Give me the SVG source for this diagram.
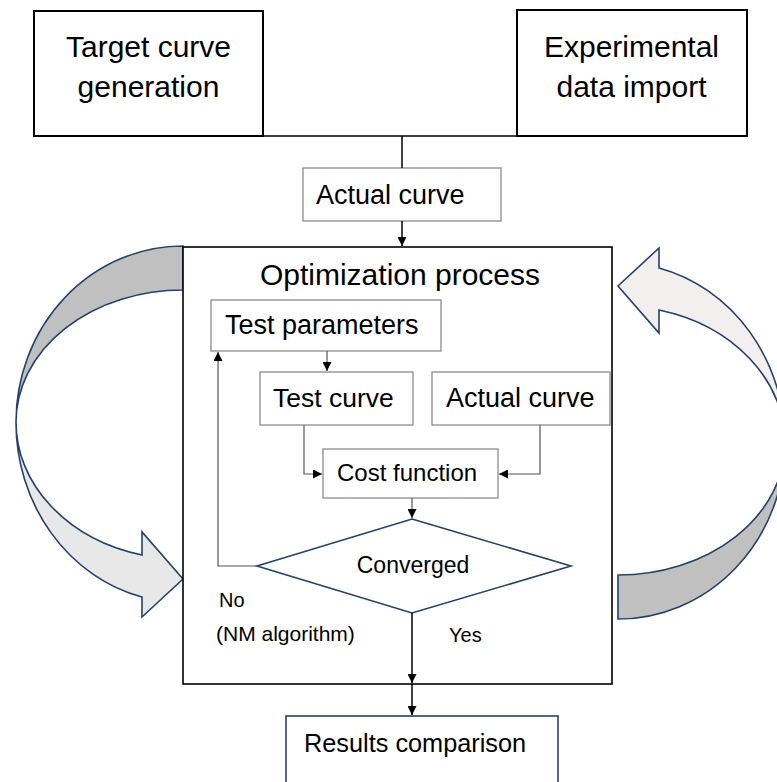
<svg xmlns="http://www.w3.org/2000/svg" width="777" height="782" viewBox="0 0 777 782">
<defs>
<style>
text{font-family:"Liberation Sans",Arial,sans-serif;fill:#000}
.big{font-size:30px}
.mid{font-size:27px}
.bk{fill:#fff;stroke:#000;stroke-width:2}
.gr{fill:#fff;stroke:#8c8c8c;stroke-width:1.3}
.nv{fill:#fff;stroke:#23416b;stroke-width:1.6}
.cn{fill:none;stroke:#000;stroke-width:1.5}
.ci{fill:none;stroke:#555;stroke-width:1.2}
.arr{stroke:#23416b;stroke-width:1.6;stroke-linejoin:miter}
</style>
<marker id="ah" viewBox="0 0 10 10" refX="10" refY="5" markerWidth="9" markerHeight="9" markerUnits="userSpaceOnUse" orient="auto">
<path d="M0,0 L10,5 L0,10 Z" fill="#000"/>
</marker>
</defs>

<g id="loop-left">
<path class="arr" fill="#c0c0c0" d="M183,246 A167,176 0 0 0 16,422 A167,132 0 0 1 183,290 Z"/>
<path class="arr" fill="#e8e8e8" d="M16,422 A167,180 0 0 0 142,597 L142,617 L183,579 L142,532 L142,555 A167,137 0 0 1 16,422 Z"/>
</g>
<g id="loop-right" transform="rotate(180 400.5 432.5)">
<path class="arr" fill="#c0c0c0" d="M183,246 A167,176 0 0 0 16,422 A167,132 0 0 1 183,290 Z"/>
<path class="arr" fill="#f4efef" d="M16,422 A167,180 0 0 0 142,597 L142,617 L183,579 L142,532 L142,555 A167,137 0 0 1 16,422 Z"/>
</g>

<g id="target">
<rect class="bk" x="34" y="11" width="229" height="125"/>
<text class="big" x="148.5" y="57" text-anchor="middle">Target curve</text>
<text class="big" x="148.5" y="97" text-anchor="middle">generation</text>
</g>
<g id="experimental">
<rect class="bk" x="517" y="10" width="230" height="126"/>
<text class="big" x="631.5" y="57" text-anchor="middle">Experimental</text>
<text class="big" x="631.5" y="97" text-anchor="middle">data import</text>
</g>
<g id="actual-top">
<rect class="gr" x="303" y="168" width="198" height="53"/>
<text class="mid" x="316" y="204">Actual curve</text>
</g>
<g id="optimization">
<rect fill="#fff" stroke="#000" stroke-width="1.6" x="183" y="247" width="429" height="437"/>
<text x="400" y="285" text-anchor="middle" font-size="30">Optimization process</text>
</g>
<g id="test-params">
<rect class="gr" x="211" y="300" width="230" height="51"/>
<text class="mid" x="225" y="334">Test parameters</text>
</g>
<g id="test-curve">
<rect class="gr" x="260" y="372" width="153" height="53"/>
<text x="273" y="407" font-size="26.5">Test curve</text>
</g>
<g id="actual-inner">
<rect class="gr" x="432" y="372" width="178" height="53"/>
<text class="mid" x="446" y="407">Actual curve</text>
</g>
<g id="cost">
<rect class="gr" x="323" y="449" width="175" height="49"/>
<text x="337" y="481" font-size="24">Cost function</text>
</g>
<g id="converged">
<path class="nv" d="M412,519 L571,566 L412,613 L257,566 Z"/>
<text x="413" y="573" text-anchor="middle" font-size="23">Converged</text>
</g>
<g id="results">
<rect class="nv" x="286" y="716" width="272" height="80"/>
<text x="304" y="752" font-size="25.3">Results comparison</text>
</g>

<g id="connectors">
<path class="cn" d="M263,136 H517"/>
<path class="cn" d="M402,136 V168"/>
<path class="cn" d="M402,221 V246" marker-end="url(#ah)"/>
<path class="ci" d="M327,351 V371" marker-end="url(#ah)"/>
<path class="ci" d="M304,425 V474 H322" marker-end="url(#ah)"/>
<path class="ci" d="M540,425 V474 H499" marker-end="url(#ah)"/>
<path class="ci" d="M412,498 V518" marker-end="url(#ah)"/>
<path class="ci" d="M257,566 H218 V352" marker-end="url(#ah)"/>
<path class="cn" d="M412,613 V683" marker-end="url(#ah)"/>
<path class="cn" d="M412,684 V715" marker-end="url(#ah)"/>
<text x="219" y="607" font-size="20">No</text>
<text x="216" y="641" font-size="21">(NM algorithm)</text>
<text x="449" y="642" font-size="20">Yes</text>
</g>
</svg>
